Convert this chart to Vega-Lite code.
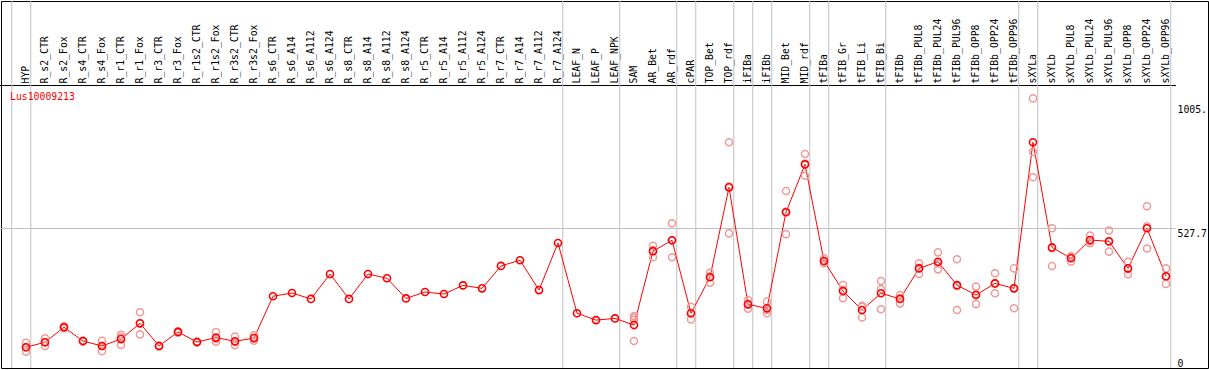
{
  "$schema": "https://vega.github.io/schema/vega-lite/v6.json",
  "width": 1207,
  "height": 367,
  "padding": {"left": 1, "top": 1, "right": 1, "bottom": 2},
  "autosize": {"type": "none"},
  "background": "white",
  "config": {"view": {"stroke": "black", "strokeWidth": 1}},
  "title": {"text": "Lus10009213", "anchor": "start", "frame": "group", "color": "#ff0000", "font": "DejaVu Sans Mono", "fontSize": 9.8, "fontWeight": "normal", "baseline": "top", "offset": 0, "dx": 9, "dy": 101},
  "datasets": {
    "bounds": [
      {"c": ""}, {"c": "HYP"}, {"c": "R_r7_A124"}, {"c": "LEAF_NPK"}, {"c": "AR_rdf"}, {"c": "cPAR"}, {"c": "TOP_rdf"}, {"c": "iFIBa"}, {"c": "iFIBb"}, {"c": "MID_rdf"}, {"c": "tFIBa"}, {"c": "tFIB_Bi"}, {"c": "tFIBb_OPP96"}, {"c": "sXYLa"}, {"c": "sXYLb_OPP96"}
    ],
    "vals": [
      {"c": "HYP", "k": "m", "v": 45}, {"c": "R_s2_CTR", "k": "m", "v": 65}, {"c": "R_s2_Fox", "k": "m", "v": 126}, {"c": "R_s4_CTR", "k": "m", "v": 70}, {"c": "R_s4_Fox", "k": "m", "v": 50}, {"c": "R_r1_CTR", "k": "m", "v": 78}, {"c": "R_r1_Fox", "k": "m", "v": 142}, {"c": "R_r3_CTR", "k": "m", "v": 50}, {"c": "R_r3_Fox", "k": "m", "v": 107}, {"c": "R_r1s2_CTR", "k": "m", "v": 66}, {"c": "R_r1s2_Fox", "k": "m", "v": 84}, {"c": "R_r3s2_CTR", "k": "m", "v": 69}, {"c": "R_r3s2_Fox", "k": "m", "v": 82},
      {"c": "R_s6_CTR", "k": "m", "v": 252}, {"c": "R_s6_A14", "k": "m", "v": 265}, {"c": "R_s6_A112", "k": "m", "v": 241}, {"c": "R_s6_A124", "k": "m", "v": 342}, {"c": "R_s8_CTR", "k": "m", "v": 241}, {"c": "R_s8_A14", "k": "m", "v": 342}, {"c": "R_s8_A112", "k": "m", "v": 325}, {"c": "R_s8_A124", "k": "m", "v": 243}, {"c": "R_r5_CTR", "k": "m", "v": 269}, {"c": "R_r5_A14", "k": "m", "v": 261}, {"c": "R_r5_A112", "k": "m", "v": 296}, {"c": "R_r5_A124", "k": "m", "v": 284}, {"c": "R_r7_CTR", "k": "m", "v": 375}, {"c": "R_r7_A14", "k": "m", "v": 398}, {"c": "R_r7_A112", "k": "m", "v": 277}, {"c": "R_r7_A124", "k": "m", "v": 468},
      {"c": "LEAF_N", "k": "m", "v": 183}, {"c": "LEAF_P", "k": "m", "v": 155}, {"c": "LEAF_NPK", "k": "m", "v": 162}, {"c": "SAM", "k": "m", "v": 135}, {"c": "AR_Bet", "k": "m", "v": 435}, {"c": "AR_rdf", "k": "m", "v": 479}, {"c": "cPAR", "k": "m", "v": 183}, {"c": "TOP_Bet", "k": "m", "v": 329}, {"c": "TOP_rdf", "k": "m", "v": 694}, {"c": "iFIBa", "k": "m", "v": 219}, {"c": "iFIBb", "k": "m", "v": 203}, {"c": "MID_Bet", "k": "m", "v": 593}, {"c": "MID_rdf", "k": "m", "v": 787}, {"c": "tFIBa", "k": "m", "v": 395}, {"c": "tFIB_Gr", "k": "m", "v": 273}, {"c": "tFIB_Li", "k": "m", "v": 196}, {"c": "tFIB_Bi", "k": "m", "v": 264}, {"c": "tFIBb", "k": "m", "v": 241}, {"c": "tFIBb_PUL8", "k": "m", "v": 365}, {"c": "tFIBb_PUL24", "k": "m", "v": 392}, {"c": "tFIBb_PUL96", "k": "m", "v": 297}, {"c": "tFIBb_OPP8", "k": "m", "v": 257}, {"c": "tFIBb_OPP24", "k": "m", "v": 304}, {"c": "tFIBb_OPP96", "k": "m", "v": 284}, {"c": "sXYLa", "k": "m", "v": 877}, {"c": "sXYLb", "k": "m", "v": 450}, {"c": "sXYLb_PUL8", "k": "m", "v": 406}, {"c": "sXYLb_PUL24", "k": "m", "v": 480}, {"c": "sXYLb_PUL96", "k": "m", "v": 475}, {"c": "sXYLb_OPP8", "k": "m", "v": 365}, {"c": "sXYLb_OPP24", "k": "m", "v": 528}, {"c": "sXYLb_OPP96", "k": "m", "v": 333},
      {"c": "HYP", "k": "r", "v": 63}, {"c": "HYP", "k": "r", "v": 45}, {"c": "HYP", "k": "r", "v": 27},
      {"c": "R_s2_CTR", "k": "r", "v": 81}, {"c": "R_s2_CTR", "k": "r", "v": 65}, {"c": "R_s2_CTR", "k": "r", "v": 50},
      {"c": "R_s2_Fox", "k": "r", "v": 130}, {"c": "R_s2_Fox", "k": "r", "v": 122},
      {"c": "R_s4_CTR", "k": "r", "v": 72}, {"c": "R_s4_CTR", "k": "r", "v": 68},
      {"c": "R_s4_Fox", "k": "r", "v": 71}, {"c": "R_s4_Fox", "k": "r", "v": 50}, {"c": "R_s4_Fox", "k": "r", "v": 29},
      {"c": "R_r1_CTR", "k": "r", "v": 95}, {"c": "R_r1_CTR", "k": "r", "v": 85}, {"c": "R_r1_CTR", "k": "r", "v": 54},
      {"c": "R_r1_Fox", "k": "r", "v": 187}, {"c": "R_r1_Fox", "k": "r", "v": 142}, {"c": "R_r1_Fox", "k": "r", "v": 97},
      {"c": "R_r3_CTR", "k": "r", "v": 52}, {"c": "R_r3_CTR", "k": "r", "v": 48},
      {"c": "R_r3_Fox", "k": "r", "v": 110}, {"c": "R_r3_Fox", "k": "r", "v": 104},
      {"c": "R_r1s2_CTR", "k": "r", "v": 68}, {"c": "R_r1s2_CTR", "k": "r", "v": 64},
      {"c": "R_r1s2_Fox", "k": "r", "v": 107}, {"c": "R_r1s2_Fox", "k": "r", "v": 78}, {"c": "R_r1s2_Fox", "k": "r", "v": 67},
      {"c": "R_r3s2_CTR", "k": "r", "v": 88}, {"c": "R_r3s2_CTR", "k": "r", "v": 66}, {"c": "R_r3s2_CTR", "k": "r", "v": 53},
      {"c": "R_r3s2_Fox", "k": "r", "v": 93}, {"c": "R_r3s2_Fox", "k": "r", "v": 82}, {"c": "R_r3s2_Fox", "k": "r", "v": 71},
      {"c": "SAM", "k": "r", "v": 172}, {"c": "SAM", "k": "r", "v": 164}, {"c": "SAM", "k": "r", "v": 156}, {"c": "SAM", "k": "r", "v": 70},
      {"c": "AR_Bet", "k": "r", "v": 457}, {"c": "AR_Bet", "k": "r", "v": 438}, {"c": "AR_Bet", "k": "r", "v": 410},
      {"c": "AR_rdf", "k": "r", "v": 548}, {"c": "AR_rdf", "k": "r", "v": 479}, {"c": "AR_rdf", "k": "r", "v": 410},
      {"c": "cPAR", "k": "r", "v": 209}, {"c": "cPAR", "k": "r", "v": 182}, {"c": "cPAR", "k": "r", "v": 158},
      {"c": "TOP_Bet", "k": "r", "v": 347}, {"c": "TOP_Bet", "k": "r", "v": 333}, {"c": "TOP_Bet", "k": "r", "v": 307},
      {"c": "TOP_rdf", "k": "r", "v": 877}, {"c": "TOP_rdf", "k": "r", "v": 698}, {"c": "TOP_rdf", "k": "r", "v": 507},
      {"c": "iFIBa", "k": "r", "v": 237}, {"c": "iFIBa", "k": "r", "v": 219}, {"c": "iFIBa", "k": "r", "v": 201},
      {"c": "iFIBb", "k": "r", "v": 230}, {"c": "iFIBb", "k": "r", "v": 196}, {"c": "iFIBb", "k": "r", "v": 183},
      {"c": "MID_Bet", "k": "r", "v": 679}, {"c": "MID_Bet", "k": "r", "v": 596}, {"c": "MID_Bet", "k": "r", "v": 504},
      {"c": "MID_rdf", "k": "r", "v": 829}, {"c": "MID_rdf", "k": "r", "v": 791}, {"c": "MID_rdf", "k": "r", "v": 741},
      {"c": "tFIBa", "k": "r", "v": 406}, {"c": "tFIBa", "k": "r", "v": 393}, {"c": "tFIBa", "k": "r", "v": 386},
      {"c": "tFIB_Gr", "k": "r", "v": 297}, {"c": "tFIB_Gr", "k": "r", "v": 278}, {"c": "tFIB_Gr", "k": "r", "v": 244},
      {"c": "tFIB_Li", "k": "r", "v": 213}, {"c": "tFIB_Li", "k": "r", "v": 209}, {"c": "tFIB_Li", "k": "r", "v": 166},
      {"c": "tFIB_Bi", "k": "r", "v": 314}, {"c": "tFIB_Bi", "k": "r", "v": 281}, {"c": "tFIB_Bi", "k": "r", "v": 199},
      {"c": "tFIBb", "k": "r", "v": 257}, {"c": "tFIBb", "k": "r", "v": 243}, {"c": "tFIBb", "k": "r", "v": 223},
      {"c": "tFIBb_PUL8", "k": "r", "v": 386}, {"c": "tFIBb_PUL8", "k": "r", "v": 367}, {"c": "tFIBb_PUL8", "k": "r", "v": 342},
      {"c": "tFIBb_PUL24", "k": "r", "v": 430}, {"c": "tFIBb_PUL24", "k": "r", "v": 385}, {"c": "tFIBb_PUL24", "k": "r", "v": 361},
      {"c": "tFIBb_PUL96", "k": "r", "v": 402}, {"c": "tFIBb_PUL96", "k": "r", "v": 293}, {"c": "tFIBb_PUL96", "k": "r", "v": 196},
      {"c": "tFIBb_OPP8", "k": "r", "v": 291}, {"c": "tFIBb_OPP8", "k": "r", "v": 260}, {"c": "tFIBb_OPP8", "k": "r", "v": 220},
      {"c": "tFIBb_OPP24", "k": "r", "v": 345}, {"c": "tFIBb_OPP24", "k": "r", "v": 303}, {"c": "tFIBb_OPP24", "k": "r", "v": 264},
      {"c": "tFIBb_OPP96", "k": "r", "v": 365}, {"c": "tFIBb_OPP96", "k": "r", "v": 284}, {"c": "tFIBb_OPP96", "k": "r", "v": 203},
      {"c": "sXYLa", "k": "r", "v": 1055}, {"c": "sXYLa", "k": "r", "v": 838}, {"c": "sXYLa", "k": "r", "v": 735},
      {"c": "sXYLb", "k": "r", "v": 528}, {"c": "sXYLb", "k": "r", "v": 447}, {"c": "sXYLb", "k": "r", "v": 375},
      {"c": "sXYLb_PUL8", "k": "r", "v": 414}, {"c": "sXYLb_PUL8", "k": "r", "v": 412}, {"c": "sXYLb_PUL8", "k": "r", "v": 392},
      {"c": "sXYLb_PUL24", "k": "r", "v": 498}, {"c": "sXYLb_PUL24", "k": "r", "v": 475}, {"c": "sXYLb_PUL24", "k": "r", "v": 467},
      {"c": "sXYLb_PUL96", "k": "r", "v": 519}, {"c": "sXYLb_PUL96", "k": "r", "v": 473}, {"c": "sXYLb_PUL96", "k": "r", "v": 433},
      {"c": "sXYLb_OPP8", "k": "r", "v": 392}, {"c": "sXYLb_OPP8", "k": "r", "v": 362}, {"c": "sXYLb_OPP8", "k": "r", "v": 341},
      {"c": "sXYLb_OPP24", "k": "r", "v": 617}, {"c": "sXYLb_OPP24", "k": "r", "v": 536}, {"c": "sXYLb_OPP24", "k": "r", "v": 446},
      {"c": "sXYLb_OPP96", "k": "r", "v": 365}, {"c": "sXYLb_OPP96", "k": "r", "v": 332}, {"c": "sXYLb_OPP96", "k": "r", "v": 302}
    ]
  },
  "resolve": {"scale": {"x": "shared", "y": "shared"}, "axis": {"y": "independent"}},
  "layer": [
    {
      "data": {"name": "bounds"},
      "mark": {"type": "rule", "color": "#c0c0c0", "strokeWidth": 1},
      "encoding": {
        "x": {"field": "c", "type": "nominal", "bandPosition": 0.75,
          "scale": {"type": "band", "paddingInner": 0, "paddingOuter": 0, "range": [-3.5, 1174.5],
            "domain": ["","HYP","R_s2_CTR","R_s2_Fox","R_s4_CTR","R_s4_Fox","R_r1_CTR","R_r1_Fox","R_r3_CTR","R_r3_Fox","R_r1s2_CTR","R_r1s2_Fox","R_r3s2_CTR","R_r3s2_Fox","R_s6_CTR","R_s6_A14","R_s6_A112","R_s6_A124","R_s8_CTR","R_s8_A14","R_s8_A112","R_s8_A124","R_r5_CTR","R_r5_A14","R_r5_A112","R_r5_A124","R_r7_CTR","R_r7_A14","R_r7_A112","R_r7_A124","LEAF_N","LEAF_P","LEAF_NPK","SAM","AR_Bet","AR_rdf","cPAR","TOP_Bet","TOP_rdf","iFIBa","iFIBb","MID_Bet","MID_rdf","tFIBa","tFIB_Gr","tFIB_Li","tFIB_Bi","tFIBb","tFIBb_PUL8","tFIBb_PUL24","tFIBb_PUL96","tFIBb_OPP8","tFIBb_OPP24","tFIBb_OPP96","sXYLa","sXYLb","sXYLb_PUL8","sXYLb_PUL24","sXYLb_PUL96","sXYLb_OPP8","sXYLb_OPP24","sXYLb_OPP96"]},
          "axis": {"orient": "top", "offset": -84, "title": null, "labelAngle": 270, "labelAlign": "left", "labelBaseline": "middle", "labelPadding": 2, "ticks": false, "domain": false, "grid": false, "labelFont": "DejaVu Sans Mono", "labelFontSize": 9.8, "labelColor": "black", "labelOverlap": false, "labelBound": false, "labelFlush": false}}
      }
    },
    {
      "data": {"name": "vals"},
      "transform": [{"filter": "datum.k == 'm'"}],
      "mark": {"type": "line", "color": "#ff0000", "strokeWidth": 1},
      "encoding": {
        "x": {"field": "c", "type": "nominal"},
        "y": {"field": "v", "type": "quantitative",
          "scale": {"domain": [0, 1109.4], "range": [357.3, 84], "nice": false, "zero": false},
          "axis": {"orient": "left", "title": null, "values": [527.7, 1109.4], "domain": false, "ticks": false, "labels": false,
            "grid": true, "gridWidth": 1,
            "gridColor": {"condition": {"test": "datum.value > 1100", "value": "black"}, "value": "#c0c0c0"}}}
      }
    },
    {
      "data": {"name": "vals"},
      "transform": [{"filter": "datum.k == 'r'"}],
      "mark": {"type": "point", "shape": "circle", "filled": false, "color": "#ee9a9a", "strokeWidth": 1.5, "size": 50, "opacity": 1},
      "encoding": {
        "x": {"field": "c", "type": "nominal"},
        "y": {"field": "v", "type": "quantitative", "axis": null}
      }
    },
    {
      "data": {"name": "vals"},
      "transform": [{"filter": "datum.k == 'm'"}],
      "mark": {"type": "point", "shape": "circle", "filled": false, "color": "#ff0000", "strokeWidth": 1.6, "size": 50, "opacity": 1},
      "encoding": {
        "x": {"field": "c", "type": "nominal"},
        "y": {"field": "v", "type": "quantitative",
          "axis": {"orient": "right", "offset": -38, "title": null, "values": [0, 527.7, 1055.4], "domain": false, "ticks": false, "grid": false, "labelPadding": 7, "labelAlign": "left", "labelBaseline": "top", "labelFont": "DejaVu Sans Mono", "labelFontSize": 9.8, "labelColor": "black", "labelOverlap": false, "labelBound": false, "labelFlush": false,
            "labelExpr": "datum.value > 1000 ? '1005.' : (datum.value > 0 ? format(datum.value, '.1f') : '0')",
            "labelOffset": {"condition": {"test": "datum.value > 1000", "value": 6}, "value": 0}}}
      }
    }
  ]
}
